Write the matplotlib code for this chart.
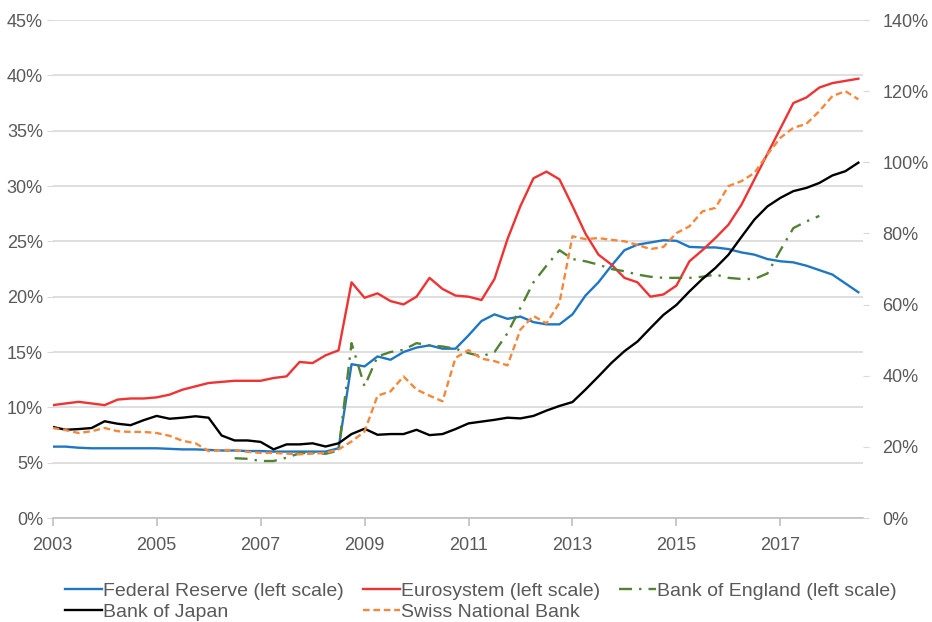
import numpy as np
import matplotlib
matplotlib.use("Agg")
import matplotlib.pyplot as plt

plt.rcParams['font.family'] = ['Liberation Sans', 'DejaVu Sans']

# quarterly points, 2003Q1 .. 2018Q3
quarters = np.arange(2003, 2018.51, 0.25)

fed = [6.45, 6.45, 6.35, 6.3,
       6.3, 6.3, 6.3, 6.3,
       6.3, 6.25, 6.2, 6.2,
       6.15, 6.1, 6.1, 6.05,
       6.05, 6.0, 6.0, 6.0,
       6.0, 6.0, 6.3, 13.9,
       13.7, 14.6, 14.3, 15.0,
       15.4, 15.6, 15.3, 15.3,
       16.5, 17.8, 18.4, 18.0,
       18.2, 17.7, 17.5, 17.5,
       18.4, 20.1, 21.3, 22.8,
       24.2, 24.7, 24.9, 25.1,
       25.05, 24.5, 24.45, 24.45,
       24.3, 24.0, 23.8, 23.4,
       23.2, 23.1, 22.8, 22.4,
       22.0, 21.2, 20.4]

euro = [10.2, 10.35, 10.5, 10.35,
        10.2, 10.7, 10.8, 10.8,
        10.9, 11.15, 11.6, 11.9,
        12.2, 12.3, 12.4, 12.4,
        12.4, 12.65, 12.8, 14.1,
        14.0, 14.7, 15.15, 21.3,
        19.9, 20.3, 19.6, 19.3,
        20.0, 21.7, 20.7, 20.1,
        20.0, 19.7, 21.6, 25.2,
        28.2, 30.7, 31.3, 30.6,
        28.2, 25.7, 23.8, 22.9,
        21.7, 21.3, 20.0, 20.2,
        21.0, 23.2, 24.2, 25.3,
        26.5, 28.3, 30.6, 32.9,
        35.2, 37.5, 38.0, 38.9,
        39.3, 39.5, 39.7]

nan = np.nan
boe = [nan, nan, nan, nan,
       nan, nan, nan, nan,
       nan, nan, nan, nan,
       nan, nan, 5.4, 5.35,
       5.15, 5.15, 5.45, 5.85,
       5.9, 5.8, 6.1, 15.8,
       11.9, 14.6, 15.0, 15.2,
       15.8, 15.6, 15.5, 15.3,
       14.9, 14.6, 15.0, 16.7,
       19.0, 21.3, 22.8, 24.2,
       23.4, 23.2, 22.9, 22.5,
       22.3, 22.0, 21.8, 21.7,
       21.7, 21.7, 21.8, 22.0,
       21.7, 21.6, 21.6, 22.1,
       24.2, 26.2, 26.8, 27.3,
       nan, nan, nan]

boj = [25.6, 24.8, 25.0, 25.3,
       27.2, 26.5, 26.1, 27.5,
       28.7, 27.9, 28.2, 28.6,
       28.2, 23.2, 21.8, 21.8,
       21.4, 19.3, 20.7, 20.7,
       21.0, 20.1, 21.0, 23.6,
       25.1, 23.4, 23.6, 23.6,
       24.8, 23.3, 23.6, 25.0,
       26.6, 27.1, 27.6, 28.2,
       28.0, 28.7, 30.2, 31.5,
       32.6, 36.1, 39.8, 43.6,
       46.9, 49.6, 53.4, 57.1,
       59.9, 63.7, 67.2, 70.3,
       74.0, 79.0, 83.9, 87.6,
       90.0, 91.9, 92.8, 94.2,
       96.3, 97.5, 99.9]

snb = [25.3, 24.7, 23.9, 24.4,
       25.3, 24.4, 24.2, 24.2,
       23.9, 23.1, 21.7, 21.0,
       18.8, 19.1, 19.1, 18.6,
       18.3, 18.3, 18.1, 17.9,
       18.1, 18.3, 19.3, 21.5,
       24.3, 34.4, 35.6, 39.8,
       36.1, 34.4, 32.8, 45.0,
       47.2, 44.8, 44.1, 42.9,
       53.0, 56.8, 54.7, 60.5,
       79.2, 78.4, 78.7, 78.2,
       77.8, 76.8, 75.6, 76.2,
       80.1, 82.0, 86.2, 87.2,
       93.3, 94.7, 97.0, 102.2,
       106.9, 109.7, 110.8, 114.4,
       118.6, 120.0, 117.7]

year_ticks = [2003, 2005, 2007, 2009, 2011, 2013, 2015, 2017]
left_ticks = [0, 5, 10, 15, 20, 25, 30, 35, 40, 45]
right_ticks = [0, 20, 40, 60, 80, 100, 120, 140]

txt = '#595959'
grid = '#d9d9d9'

fig = plt.figure(figsize=(9.32, 6.22), dpi=100)
ax = fig.add_axes([0.0565, 0.1672, 0.8695, 0.8006])
ax2 = ax.twinx()

l_fed, = ax.plot(quarters, fed, color='#1f77c4', lw=1.7, label='Federal Reserve (left scale)')
l_euro, = ax.plot(quarters, euro, color='#ef3232', lw=1.7, label='Eurosystem (left scale)')
l_boe, = ax.plot(quarters, boe, color='#548235', lw=1.7, dashes=(5.5, 3, 1, 3),
                 label='Bank of England (left scale)')
l_boj, = ax2.plot(quarters, boj, color='black', lw=1.7, label='Bank of Japan')
l_snb, = ax2.plot(quarters, snb, color='#f4873a', lw=1.7, dashes=(2.8, 1.6),
                  label='Swiss National Bank')

ax.set_xlim(2003, 2018.59)
ax.set_ylim(0, 45)
ax2.set_ylim(0, 140)

ax.set_yticks(left_ticks)
ax.set_yticklabels([f'{v}%' for v in left_ticks])
ax2.set_yticks(right_ticks)
ax2.set_yticklabels([f'{v}%' for v in right_ticks])
ax.set_xticks(year_ticks)
ax.set_xticklabels([str(y) for y in year_ticks])

ax.grid(axis='y', color=grid, lw=1.2)
ax.set_axisbelow(True)

for a in (ax, ax2):
    for s in ('top', 'left', 'right', 'bottom'):
        a.spines[s].set_visible(False)
ax.spines['bottom'].set_visible(True)
ax.spines['bottom'].set_color('#bfbfbf')
ax.spines['bottom'].set_linewidth(1.2)

ax.tick_params(axis='y', length=4, color=grid, labelsize=13, labelcolor=txt, pad=3)
ax2.tick_params(axis='y', length=4, color=grid, labelsize=13, labelcolor=txt, pad=10)
ax.tick_params(axis='x', length=6, color='#bfbfbf', width=1.2, labelsize=13, labelcolor=txt, pad=8)

# row order: Fed, Euro, BoE / BoJ, SNB (legend fills by column)
handles = [l_fed, l_boj, l_euro, l_snb, l_boe]
fig.legend(handles=handles, labels=[h.get_label() for h in handles],
           loc='center', bbox_to_anchor=(0.516, 0.033), ncol=3, frameon=False,
           fontsize=14, handlelength=1.9, handletextpad=0.05, columnspacing=1.0,
           labelspacing=0.2, labelcolor=txt, borderpad=0)

fig.savefig('out.png', dpi=100)
